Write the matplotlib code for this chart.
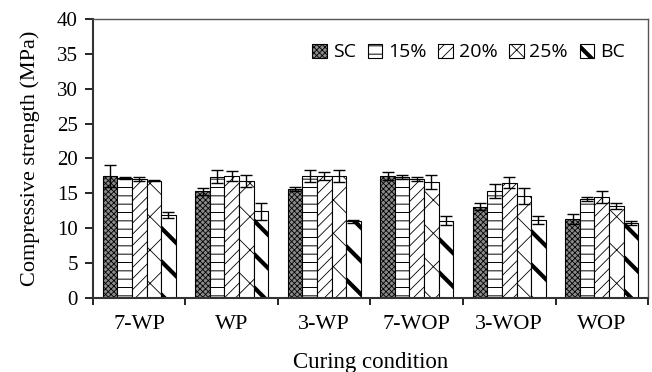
import numpy as np
import matplotlib
matplotlib.use('Agg')
import matplotlib.pyplot as plt
from matplotlib.patches import Patch

conditions = ['7-WP', 'WP', '3-WP', '7-WOP', '3-WOP', 'WOP']
series = ['SC', '15%', '20%', '25%', 'BC']

# mean compressive strength (MPa) per series, one value per curing condition
sc_mean = [17.5, 15.3, 15.6, 17.5, 13.1, 11.3]
p15_mean = [17.2, 17.4, 17.5, 17.3, 15.4, 14.2]
p20_mean = [17.1, 17.5, 17.5, 17.1, 16.5, 14.5]
p25_mean = [16.8, 16.8, 17.5, 16.6, 14.6, 13.2]
bc_mean = [11.9, 12.4, 11.0, 11.1, 11.2, 10.8]

# error bars (MPa)
sc_err = [1.6, 0.5, 0.3, 0.6, 0.5, 0.7]
p15_err = [0.2, 0.9, 0.9, 0.3, 1.0, 0.3]
p20_err = [0.3, 0.7, 0.6, 0.3, 0.8, 0.9]
p25_err = [0.1, 0.9, 0.9, 1.0, 1.1, 0.4]
bc_err = [0.4, 1.2, 0.2, 0.6, 0.6, 0.3]

means = [sc_mean, p15_mean, p20_mean, p25_mean, bc_mean]
errs = [sc_err, p15_err, p20_err, p25_err, bc_err]

styles = [
    dict(facecolor='#8a8a8a', hatch='xxxxxx', lw=0.6),
    dict(facecolor='white', hatch='--', lw=0.7),
    dict(facecolor='white', hatch='///', lw=0.6),
    dict(facecolor='white', hatch='x', lw=0.6),
    dict(facecolor='white', hatch='\\', lw=3.0),
]


def set_hlw(p, lw):
    try:
        p.set_hatch_linewidth(lw)
    except AttributeError:
        pass


fig = plt.figure(figsize=(6.52, 3.72), dpi=100)
ax = fig.add_axes([0.1426, 0.199, 0.8513, 0.750])

x = np.arange(len(conditions)) + 0.5
w = 0.158
handles = []
for i, (m, e, st) in enumerate(zip(means, errs, styles)):
    plt.rcParams['hatch.linewidth'] = st['lw']
    pos = x + (i - 2) * w
    bars = ax.bar(pos, m, width=w, facecolor=st['facecolor'], edgecolor='black',
                  hatch=st['hatch'], linewidth=0.8, zorder=2)
    for b in bars:
        set_hlw(b, st['lw'])
    ax.errorbar(pos, m, yerr=e, fmt='none', ecolor='black', elinewidth=1.0,
                capsize=4, capthick=1.0, zorder=3)
    handles.append(Patch(facecolor=st['facecolor'], edgecolor='black',
                         hatch=st['hatch'], linewidth=0.8, label=series[i]))

ax.set_xlim(0, 6)
ax.set_ylim(0, 40)
ax.set_yticks(range(0, 41, 5))
ax.set_xticks(np.arange(0, 7))
ax.set_xticklabels([])
ax.set_xticks(x, minor=True)
ax.set_xticklabels(conditions, minor=True)
ax.tick_params(axis='x', which='minor', length=0, pad=12)
ax.tick_params(axis='x', which='major', direction='out', length=5, width=1.2)
ax.tick_params(axis='y', direction='out', length=6, width=1.2, pad=5)

serif = 'Liberation Serif'
for lab in ax.get_yticklabels():
    lab.set_fontfamily(serif)
    lab.set_fontsize(15)
for lab in ax.get_xticklabels(minor=True):
    lab.set_fontfamily(serif)
    lab.set_fontsize(16)
ax.set_ylabel('Compressive strength (MPa)', fontfamily=serif, fontsize=16, labelpad=12)
ax.set_xlabel('Curing condition', fontfamily=serif, fontsize=16.5, labelpad=13)

for side in ['left', 'bottom']:
    ax.spines[side].set_linewidth(1.5)
    ax.spines[side].set_color('#333333')
for side in ['top', 'right']:
    ax.spines[side].set_linewidth(1.0)
    ax.spines[side].set_color('#555555')

leg = ax.legend(handles=handles, loc='upper right', bbox_to_anchor=(0.99, 0.975), ncol=5,
                frameon=False, handlelength=0.75, handleheight=0.75, handletextpad=0.3,
                columnspacing=0.6, prop={'family': 'Open Sans', 'size': 14})
for p, st in zip(leg.get_patches(), styles):
    set_hlw(p, st['lw'])

fig.savefig('out.png', dpi=100)
